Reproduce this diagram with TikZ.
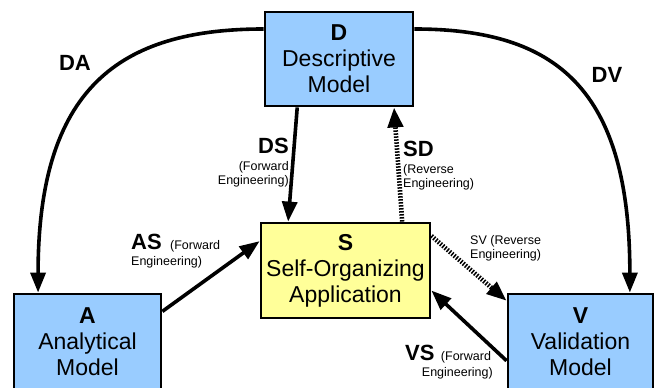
\documentclass[tikz,border=0pt]{standalone}
\usepackage{fontspec}
\setmainfont{Liberation Sans}
\usetikzlibrary{arrows.meta,calc}
\definecolor{boxblue}{HTML}{99CCFF}
\definecolor{boxyellow}{HTML}{FFFF99}
\begin{document}
\begin{tikzpicture}[x=1pt,y=-1pt,
  model/.style={draw=black, line width=2.8pt, fill=boxblue, align=center,
    font=\fontsize{23}{26}\selectfont, inner sep=0pt},
  appbox/.style={model, fill=boxyellow},
  arr/.style={line width=3.6pt, -{Triangle[length=20pt,width=15pt]}},
  dotarr/.style={line width=4.6pt, dash pattern=on 1.5pt off 1.5pt, -{Triangle[length=20pt,width=15pt]}},
  biglab/.style={font=\fontsize{22}{24}\selectfont\bfseries, inner sep=0pt},
  smalllab/.style={font=\fontsize{12.5}{14}\selectfont, inner sep=0pt}]
\useasboundingbox (0,0) rectangle (657,388);
\fill[white] (0,0) rectangle (657,388);

\node[model, minimum width=148pt, minimum height=94pt] (D) at (339,59) {\textbf{D}\\Descriptive\\Model};
\node[appbox, minimum width=169pt, minimum height=95pt] (S) at (345.5,270.5) {\textbf{S}\\Self-Organizing\\Application};
\node[model, minimum width=147pt, minimum height=96pt] (A) at (87.5,342) {\textbf{A}\\Analytical\\Model};
\node[model, minimum width=145pt, minimum height=96pt] (V) at (580.5,342) {\textbf{V}\\Validation\\Model};

% curved arrows
\draw[arr] ($(D.north west)!0.19!(D.south west)$) .. controls +(-145,0) and +(0,-204) .. ($(A.north west)!0.17!(A.north east)$);
\draw[arr] ($(D.north east)!0.19!(D.south east)$) .. controls +(142,0) and +(0,-204) .. ($(V.north west)!0.834!(V.north east)$);

% straight arrows
\draw[arr] ($(D.south west)!0.223!(D.south east)$) -- ($(S.north west)!0.166!(S.north east)$);
\draw[dotarr] ($(S.north west)!0.83!(S.north east)$) -- ($(D.south west)!0.865!(D.south east)$);
\draw[arr] ($(A.north east)!0.19!(A.south east)$) -- ($(S.north west)!0.2!(S.south west)$);
\draw[dotarr] ($(S.north east)!0.147!(S.south east)$) -- ($(V.north west)!0.083!(V.south west)$);
\draw[arr] ($(V.north west)!0.69!(V.south west)$) -- ($(S.north east)!0.705!(S.south east)$);

% labels
\node[biglab] (da) at (75,63) {DA};
\node[biglab] (dv) at (607,75) {DV};

\node[biglab, anchor=east] (ds) at (289,146) {DS};
\node[smalllab, anchor=east, align=right] (dsn) at (289,174) {(Forward\\Engineering)};

\node[biglab, anchor=west] (sd) at (403,149) {SD};
\node[smalllab, anchor=west, align=left] (sdn) at (403,177) {(Reverse\\Engineering)};

\node[biglab, anchor=west] (as) at (131,242) {AS};
\node[smalllab, anchor=base west] (asn) at ([xshift=8pt]as.base east) {(Forward};
\node[smalllab, anchor=west] (asn2) at (131,262) {Engineering)};

\node[smalllab, anchor=west, align=left] (svn) at (470,248) {SV (Reverse\\Engineering)};

\node[biglab, anchor=west] (vs) at (405,353) {VS};
\node[smalllab, anchor=base west] (vsn) at ([xshift=6pt]vs.base east) {(Forward};
\node[smalllab, anchor=east] (vsn2) at (493,373) {Engineering)};
\end{tikzpicture}
\end{document}
